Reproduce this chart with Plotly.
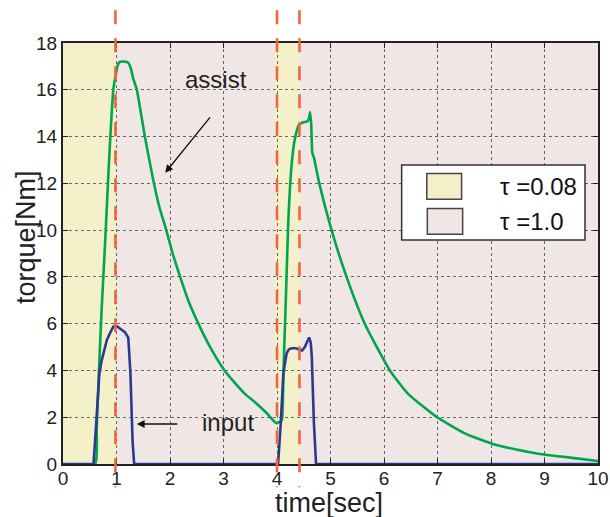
import plotly.graph_objects as go

# ---------------- data ----------------
assist_t = [0, 0.60, 0.63, 0.67, 0.72, 0.79, 0.84, 0.88, 0.94, 0.99, 1.03, 1.07, 1.18, 1.22,
            1.27, 1.31, 1.38, 1.53, 1.69, 1.80, 1.93, 2.05, 2.19, 2.34, 2.53, 2.75, 3.02, 3.20,
            3.40, 3.61, 3.81, 3.99, 4.05, 4.09, 4.12, 4.17, 4.21, 4.27, 4.33, 4.41, 4.48, 4.57,
            4.60, 4.62, 4.64, 4.66, 4.69, 4.79, 5.02, 5.30, 5.64, 6.11, 6.45, 6.98, 7.51, 8.10,
            8.85, 9.60, 10.0]
assist_v = [0, 0, 1.5, 3.9, 6.5, 9.6, 12.0, 13.8, 16.0, 16.7, 17.1, 17.2, 17.2, 17.15,
            16.9, 16.5, 16.0, 14.0, 12.1, 11.0, 10.0, 9.0, 8.0, 7.0, 6.0, 5.0, 4.0, 3.5,
            3.0, 2.6, 2.17, 1.74, 1.8, 1.88, 3.9, 7.4, 10.3, 12.7, 13.85, 14.5, 14.6, 14.65,
            14.8, 15.05, 14.5, 13.3, 13.1, 12.0, 10.0, 8.0, 6.0, 4.0, 3.0, 2.02, 1.31, 0.81,
            0.45, 0.24, 0.13]

input_t = [0, 0.57, 0.60, 0.64, 0.68, 0.72, 0.78, 0.82, 0.88, 0.94, 1.0, 1.06, 1.12, 1.16,
           1.22, 1.24, 1.26, 1.30, 1.33, 4.02, 4.05, 4.07, 4.12, 4.18, 4.22, 4.27, 4.35, 4.42,
           4.47, 4.52, 4.57, 4.60, 4.63, 4.65, 4.69, 4.73, 10.0]
input_v = [0, 0, 1.0, 2.5, 3.87, 4.4, 4.9, 5.3, 5.6, 5.87, 5.9, 5.8, 5.7, 5.63,
           5.4, 4.8, 3.9, 1.0, 0, 0, 0.9, 1.74, 3.9, 4.73, 4.9, 4.95, 4.95, 4.9,
           4.85, 5.0, 5.3, 5.41, 5.2, 4.6, 1.74, 0, 0]

fast_regions = [(0.0, 1.0), (3.96, 4.43)]      # tau = 0.08 (yellow)
switch_times = [0.98, 4.0, 4.42]               # dashed markers

x_ticks = list(range(0, 11))
y_ticks = list(range(0, 19, 2))

legend_labels = ["\u03c4 =0.08", "\u03c4 =1.0"]

# ---------------- styles ----------------
YELLOW = "#f4f0c9"
PINK = "#f0e6e5"
GREEN = "#00a550"
BLUE = "#2b3990"
ORANGE = "#f0663c"
FONT = "Liberation Sans, Arial, sans-serif"

fig = go.Figure()
fig.add_trace(go.Scatter(x=assist_t, y=assist_v, mode="lines",
                         line=dict(color=GREEN, width=2.6, shape="spline", smoothing=0.5),
                         showlegend=False))
fig.add_trace(go.Scatter(x=input_t, y=input_v, mode="lines",
                         line=dict(color=BLUE, width=2.6), showlegend=False))

shapes = []
for a, b in fast_regions:
    shapes.append(dict(type="rect", xref="x", yref="paper", x0=a, x1=b, y0=0, y1=1,
                       fillcolor=YELLOW, line=dict(width=0), layer="below"))
for s in switch_times:
    shapes.append(dict(type="line", xref="x", yref="paper", x0=s, x1=s, y0=1.078, y1=-0.055,
                       line=dict(color=ORANGE, width=2.6, dash="14px,14px"), layer="above"))

# legend box (paper coords)
shapes.append(dict(type="rect", xref="paper", yref="paper", x0=0.633, x1=0.9757, y0=0.532, y1=0.710,
                   fillcolor="white", line=dict(color="#333333", width=1.5), layer="above"))
shapes.append(dict(type="rect", xref="paper", yref="paper", x0=0.680, x1=0.745, y0=0.629, y1=0.690,
                   fillcolor=YELLOW, line=dict(color="#444444", width=1.5), layer="above"))
shapes.append(dict(type="rect", xref="paper", yref="paper", x0=0.681, x1=0.747, y0=0.546, y1=0.607,
                   fillcolor=PINK, line=dict(color="#444444", width=1.5), layer="above"))

annotations = [
    dict(text=legend_labels[0], xref="paper", yref="paper", x=0.8136, y=0.659,
         xanchor="left", yanchor="middle", showarrow=False, font=dict(size=24, color="#111", family=FONT)),
    dict(text=legend_labels[1], xref="paper", yref="paper", x=0.8136, y=0.5755,
         xanchor="left", yanchor="middle", showarrow=False, font=dict(size=24, color="#111", family=FONT)),
    dict(text="assist", xref="paper", yref="paper", x=(216 - 63) / 535, y=(464 - 80) / 421,
         xanchor="center", yanchor="middle", showarrow=False, font=dict(size=24, color="#222", family=FONT)),
    dict(text="", x=1.91, y=12.45, xref="x", yref="y", showarrow=True, ax=46, ay=-57,
         arrowhead=2, arrowsize=1.2, arrowwidth=1.3, arrowcolor="#111"),
    dict(text="input", xref="paper", yref="paper", x=(228 - 63) / 535, y=(464 - 422) / 421,
         xanchor="center", yanchor="middle", showarrow=False, font=dict(size=24, color="#222", family=FONT)),
    dict(text="", x=1.38, y=1.71, xref="x", yref="y", showarrow=True, ax=42, ay=0,
         arrowhead=2, arrowsize=1.2, arrowwidth=1.3, arrowcolor="#111"),
    dict(text="time[sec]", xref="paper", yref="paper", x=(329 - 63) / 535, y=(464 - 503) / 421,
         xanchor="center", yanchor="middle", showarrow=False, borderpad=0,
         font=dict(size=27, color="#222", family=FONT)),
    dict(text="torque[Nm]", xref="paper", yref="paper", x=(26 - 63) / 535, y=(464 - 237) / 421,
         xanchor="center", yanchor="middle", textangle=-90, showarrow=False,
         font=dict(size=27, color="#222", family=FONT)),
]

axis_common = dict(showgrid=True, gridcolor="#666666", griddash="dot", gridwidth=1,
                   ticks="inside", ticklen=5, tickcolor="#222", tickwidth=1,
                   showline=True, linecolor="#222", linewidth=2, mirror="ticks",
                   zeroline=False, automargin=False,
                   tickfont=dict(size=19, color="#222", family=FONT))

fig.update_layout(
    width=610, height=517, autosize=False,
    margin=dict(l=63, r=12, t=43, b=53, autoexpand=False),
    paper_bgcolor="white", plot_bgcolor=PINK,
    xaxis=dict(range=[0, 10], tickvals=x_ticks, ticktext=[str(v) for v in x_ticks],
               ticklabelstandoff=-4, **axis_common),
    yaxis=dict(range=[0, 18], tickvals=y_ticks, ticktext=[str(v) for v in y_ticks], **axis_common),
    shapes=shapes, annotations=annotations, showlegend=False,
    font=dict(family=FONT),
)

fig.write_html("out.html", config={"displayModeBar": False, "responsive": False},
               post_script="document.body.style.margin='0';document.body.style.overflow='hidden';")
